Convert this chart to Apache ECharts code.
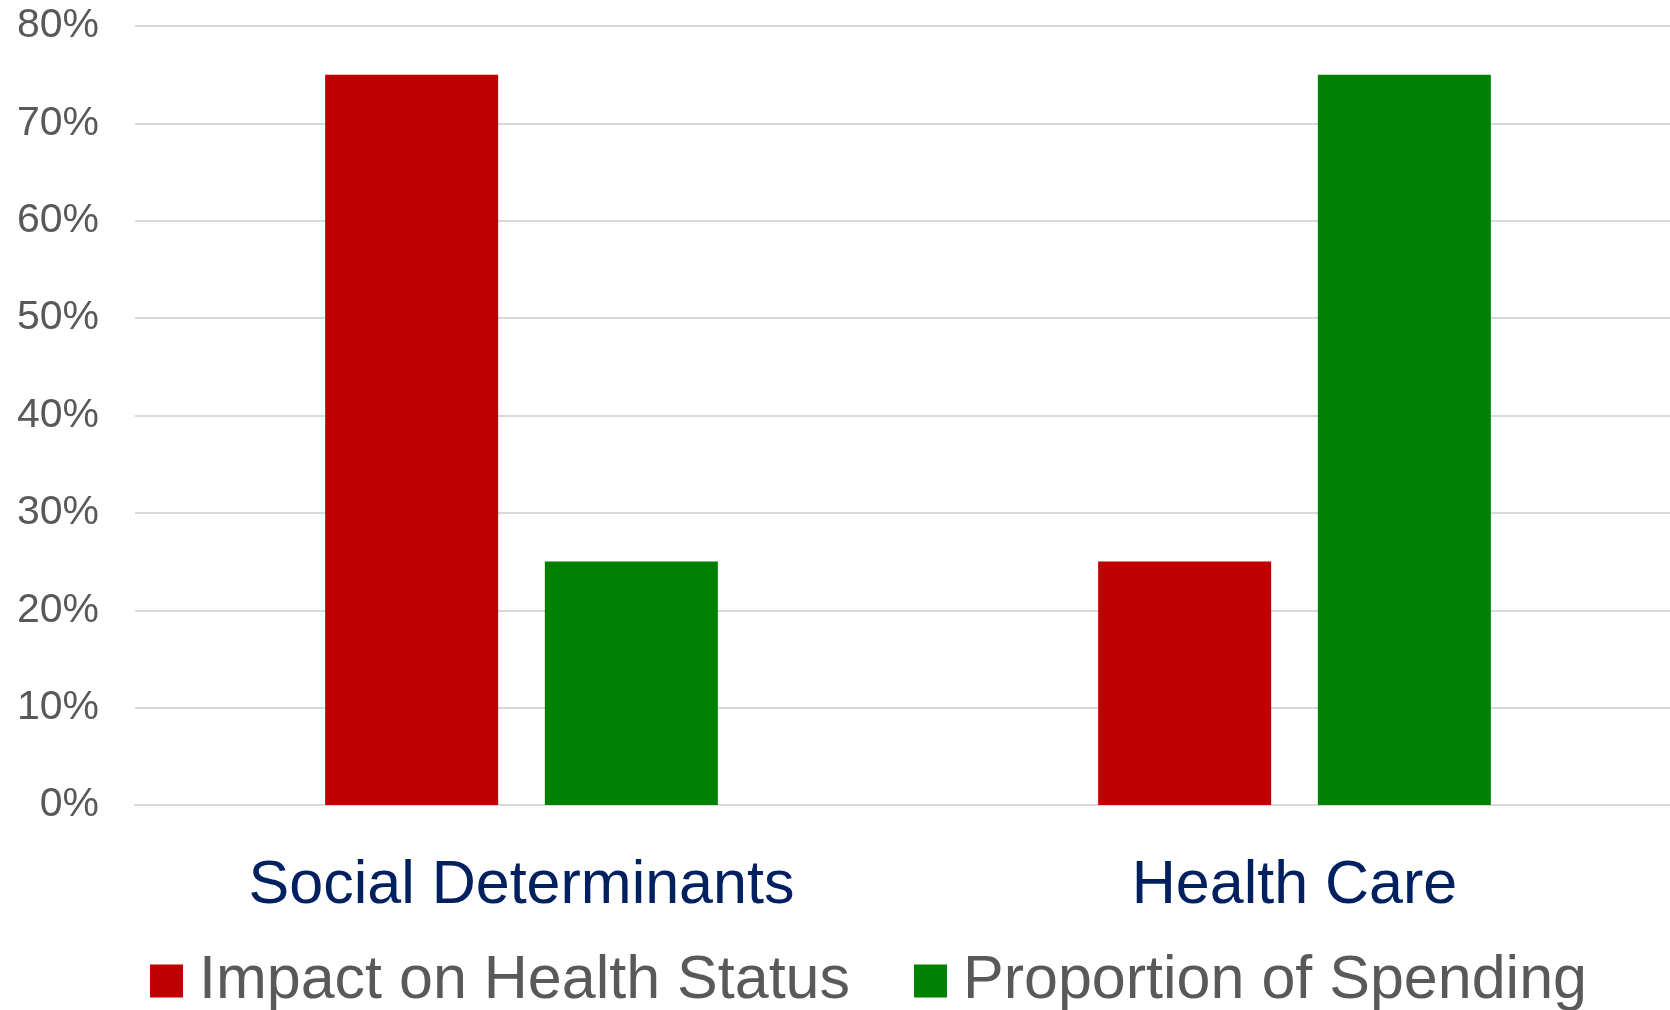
<!DOCTYPE html>
<html>
<head>
<meta charset="utf-8">
<script src="https://cdn.jsdelivr.net/npm/echarts@6/dist/echarts.min.js"></script>
<style>
html,body{margin:0;padding:0;background:#fff;}
#chart{width:1670px;height:1010px;}
</style>
</head>
<body>
<div id="chart"></div>
<script>
const categories = ['Social Determinants', 'Health Care'];
const seriesNames = ['Impact on Health Status', 'Proportion of Spending'];
const impactValues = [75, 25];
const spendingValues = [25, 75];
const yTicks = { min: 0, max: 80, interval: 10 };

const chart = echarts.init(document.getElementById('chart'), null, { renderer: 'canvas' });
chart.setOption({
  backgroundColor: '#ffffff',
  animation: false,
  grid: { left: 135, width: 1546, top: 26, height: 779, containLabel: false, outerBoundsMode: 'none' },
  legend: {
    data: seriesNames,
    left: 150,
    top: 943,
    itemWidth: 33,
    itemHeight: 33,
    itemGap: 64,
    icon: 'rect',
    textStyle: { fontFamily: 'Liberation Sans', fontSize: 61, color: '#595959', lineHeight: 70, padding: [6, 0, 0, 11] },
    padding: 0
  },
  xAxis: {
    type: 'category',
    data: categories,
    axisLine: { show: true, lineStyle: { color: '#d9d9d9', width: 2 } },
    axisTick: { show: false },
    axisLabel: { fontFamily: 'Liberation Sans', fontSize: 61, color: '#002060', margin: 51 }
  },
  yAxis: {
    type: 'value',
    min: yTicks.min,
    max: yTicks.max,
    interval: yTicks.interval,
    axisLine: { show: false },
    axisTick: { show: false },
    splitLine: { lineStyle: { color: '#d9d9d9', width: 2 } },
    axisLabel: { formatter: '{value}%', fontFamily: 'Liberation Sans', fontSize: 41, color: '#595959', margin: 36 }
  },
  series: [
    { name: seriesNames[0], type: 'bar', data: impactValues, barWidth: 173, barGap: '27%', itemStyle: { color: '#C00000' } },
    { name: seriesNames[1], type: 'bar', data: spendingValues, barWidth: 173, barGap: '27%', itemStyle: { color: '#008000' } }
  ]
});
</script>
</body>
</html>
